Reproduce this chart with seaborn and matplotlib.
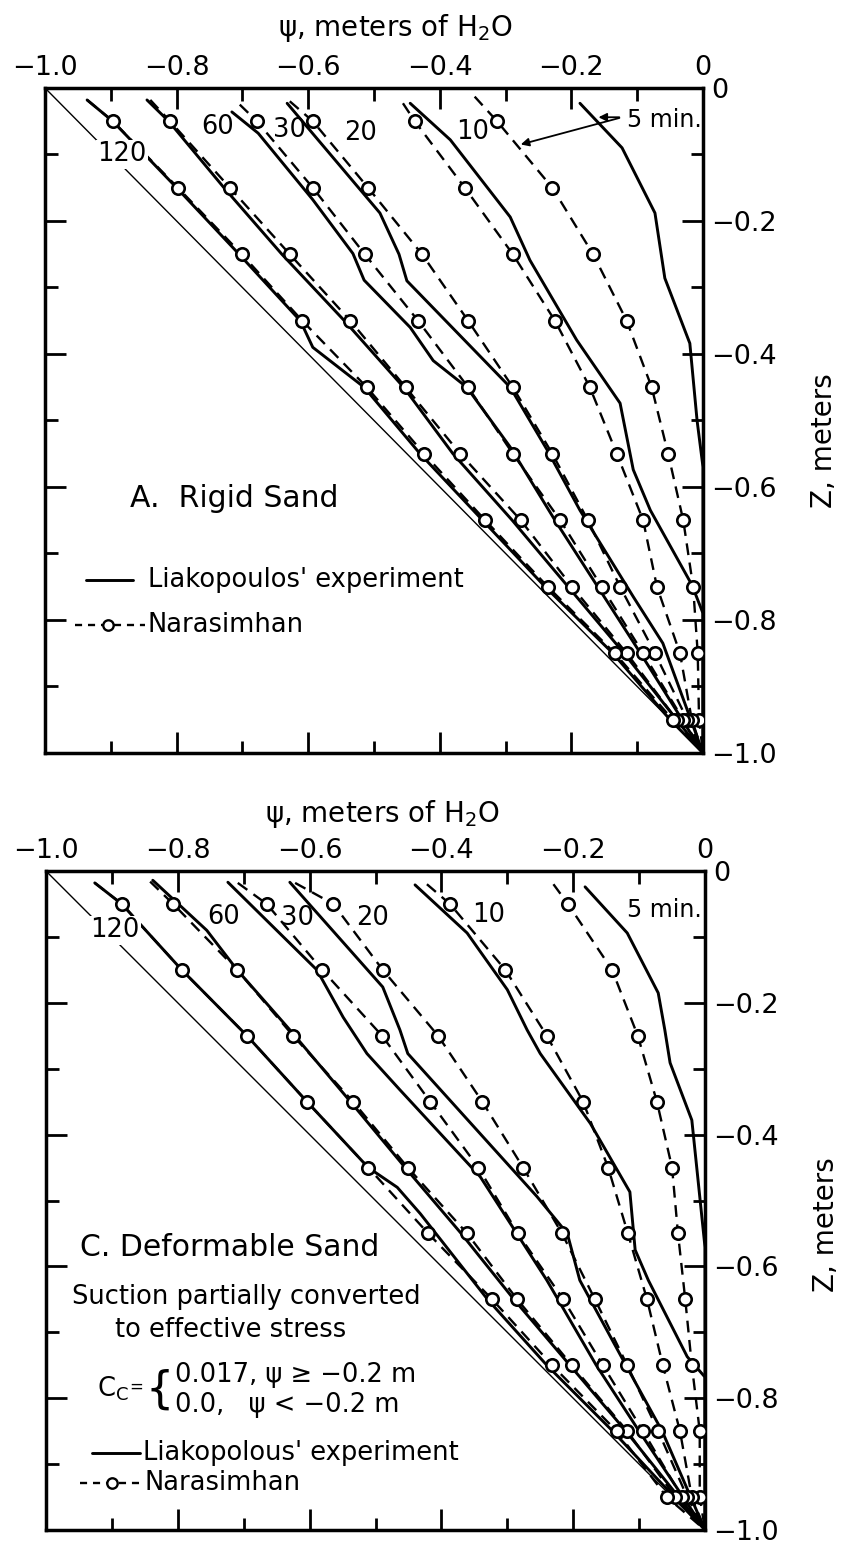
import matplotlib
matplotlib.use("Agg")
import matplotlib.pyplot as plt
import seaborn as sns
from matplotlib.ticker import MultipleLocator, FixedLocator, FixedFormatter

sns.set_theme(style="white")
plt.rcParams['font.family'] = ['DejaVu Sans']
plt.rcParams['mathtext.fontset'] = 'dejavusans'
plt.rcParams['text.color'] = 'black'
plt.rcParams['axes.labelcolor'] = 'black'
plt.rcParams['xtick.color'] = 'black'
plt.rcParams['ytick.color'] = 'black'

# ---------------- data ----------------
SERIES = ["5", "10", "20", "30", "60", "120"]
Z_CIRCLES = [-0.05, -0.15, -0.25, -0.35, -0.45, -0.55, -0.65, -0.75, -0.85, -0.95]
X_TICKLABELS = ["\u22121.0", "\u22120.8", "\u22120.6", "\u22120.4", "\u22120.2", "0"]
Y_TICKLABELS = ["\u22121.0", "\u22120.8", "\u22120.6", "\u22120.4", "\u22120.2", "0"]

# Panel A (rigid sand) - Narasimhan circles (psi at Z_CIRCLES)
A_N5 = [-0.313, -0.229, -0.167, -0.116, -0.078, -0.053, -0.030, -0.015, -0.008, -0.006]
A_N10 = [-0.438, -0.362, -0.289, -0.225, -0.172, -0.131, -0.091, -0.070, -0.035, -0.017]
A_N20 = [-0.593, -0.509, -0.427, -0.357, -0.289, -0.229, -0.175, -0.126, -0.073, -0.024]
A_N30 = [-0.678, -0.593, -0.514, -0.433, -0.357, -0.289, -0.217, -0.154, -0.091, -0.030]
A_N60 = [-0.810, -0.719, -0.628, -0.536, -0.452, -0.369, -0.277, -0.199, -0.116, -0.040]
A_N120 = [-0.897, -0.798, -0.701, -0.609, -0.511, -0.424, -0.331, -0.236, -0.134, -0.046]
# start of each dashed curve (z, psi)
A_NSTART_Z = [-0.013, -0.023, -0.020, -0.025, -0.018, -0.018]
A_NSTART_PSI = [-0.347, -0.456, -0.628, -0.704, -0.840, -0.936]

# Panel A - Liakopoulos experiment (solid)
A_S5_Z = [-0.023, -0.090, -0.188, -0.286, -0.384, -0.500, -0.570, -1.0]
A_S5_PSI = [-0.187, -0.123, -0.073, -0.058, -0.020, -0.009, 0.0, 0.0]
A_S10_Z = [-0.023, -0.078, -0.194, -0.259, -0.379, -0.474, -0.574, -0.635, -0.747, -0.790, -1.0]
A_S10_PSI = [-0.445, -0.384, -0.293, -0.263, -0.192, -0.126, -0.106, -0.080, -0.017, 0.0, 0.0]
A_S20_Z = [-0.023, -0.188, -0.250, -0.290, -0.450, -0.544, -0.635, -0.765, -0.835, -1.0]
A_S20_PSI = [-0.632, -0.491, -0.462, -0.450, -0.293, -0.237, -0.187, -0.106, -0.061, 0.0]
A_S30_Z = [-0.036, -0.068, -0.168, -0.249, -0.289, -0.360, -0.410, -0.450, -0.540, -0.650, -0.750, -0.850, -1.0]
A_S30_PSI = [-0.716, -0.676, -0.593, -0.532, -0.515, -0.445, -0.410, -0.359, -0.293, -0.225, -0.160, -0.095, 0.0]
A_S60_Z = [-0.018, -0.050, -0.150, -0.250, -0.350, -0.450, -0.550, -0.650, -0.750, -0.850, -1.0]
A_S60_PSI = [-0.845, -0.812, -0.728, -0.640, -0.545, -0.455, -0.380, -0.290, -0.205, -0.120, 0.0]
A_S120_Z = [-0.018, -0.050, -0.150, -0.250, -0.350, -0.390, -0.450, -0.550, -0.650, -0.750, -0.850, -0.950, -1.0]
A_S120_PSI = [-0.936, -0.897, -0.800, -0.705, -0.612, -0.593, -0.515, -0.430, -0.335, -0.240, -0.137, -0.050, 0.0]

# Panel C (deformable sand) - Narasimhan circles
C_N5 = [-0.208, -0.141, -0.102, -0.073, -0.050, -0.041, -0.030, -0.020, -0.008, -0.008]
C_N10 = [-0.387, -0.303, -0.240, -0.185, -0.147, -0.117, -0.088, -0.064, -0.038, -0.020]
C_N20 = [-0.564, -0.489, -0.405, -0.338, -0.276, -0.217, -0.167, -0.118, -0.071, -0.027]
C_N30 = [-0.665, -0.581, -0.490, -0.417, -0.344, -0.284, -0.215, -0.155, -0.094, -0.035]
C_N60 = [-0.807, -0.710, -0.625, -0.534, -0.451, -0.361, -0.285, -0.202, -0.118, -0.045]
C_N120 = [-0.885, -0.794, -0.695, -0.604, -0.511, -0.420, -0.323, -0.232, -0.134, -0.058]
C_NSTART_Z = [-0.020, -0.020, -0.018, -0.018, -0.016, -0.018]
C_NSTART_PSI = [-0.230, -0.422, -0.622, -0.709, -0.842, -0.926]

# Panel C - Liakopolous experiment (solid)
C_S5_Z = [-0.024, -0.094, -0.185, -0.241, -0.291, -0.378, -0.571, -1.0]
C_S5_PSI = [-0.182, -0.118, -0.071, -0.061, -0.053, -0.020, 0.0, 0.0]
C_S10_Z = [-0.021, -0.094, -0.180, -0.241, -0.277, -0.383, -0.487, -0.575, -0.621, -0.737, -0.768, -1.0]
C_S10_PSI = [-0.440, -0.361, -0.300, -0.270, -0.250, -0.174, -0.114, -0.106, -0.086, -0.027, 0.0, 0.0]
C_S20_Z = [-0.017, -0.176, -0.241, -0.277, -0.494, -0.550, -0.621, -0.750, -0.850, -1.0]
C_S20_PSI = [-0.630, -0.489, -0.463, -0.451, -0.255, -0.209, -0.190, -0.120, -0.065, 0.0]
C_S30_Z = [-0.017, -0.150, -0.222, -0.277, -0.332, -0.464, -0.621, -0.750, -0.850, -1.0]
C_S30_PSI = [-0.724, -0.589, -0.549, -0.513, -0.463, -0.341, -0.240, -0.165, -0.100, 0.0]
C_S60_Z = [-0.014, -0.090, -0.150, -0.241, -0.350, -0.450, -0.550, -0.650, -0.750, -0.850, -1.0]
C_S60_PSI = [-0.838, -0.756, -0.710, -0.630, -0.538, -0.455, -0.370, -0.290, -0.205, -0.120, 0.0]
C_S120_Z = [-0.018, -0.050, -0.150, -0.250, -0.350, -0.450, -0.480, -0.520, -0.650, -0.750, -0.850, -1.0]
C_S120_PSI = [-0.926, -0.885, -0.794, -0.695, -0.604, -0.511, -0.467, -0.432, -0.330, -0.240, -0.140, 0.0]

# hydrostatic reference line
HYDRO_PSI = [-1.0, 0.0]
HYDRO_Z = [0.0, -1.0]

# curve labels (psi, z)
A_LABELS = [("120", -0.883, -0.100), ("60", -0.737, -0.059), ("30", -0.629, -0.063),
            ("20", -0.521, -0.068), ("10", -0.350, -0.066)]
C_LABELS = [("120", -0.895, -0.090), ("60", -0.731, -0.070), ("30", -0.619, -0.071),
            ("20", -0.505, -0.071), ("10", -0.328, -0.067)]

# ---------------- figure ----------------
fig = plt.figure(figsize=(8.41, 15.49), dpi=100)
axA = fig.add_axes([0.0535, 0.5139, 0.7824, 0.4293])
axC = fig.add_axes([0.0547, 0.01227, 0.7836, 0.4254])

LW_SOLID = 2.1
LW_DASH = 1.7
DASH = (0, (5, 3.2))


def draw_panel(ax, solids, naras, starts_z, starts_psi, labels):
    sns.lineplot(x=HYDRO_PSI, y=HYDRO_Z, sort=False, estimator=None, color="black",
                 lw=1.0, ax=ax, zorder=1)
    for (pz, pp) in solids:
        sns.lineplot(x=pp, y=pz, sort=False, estimator=None, color="black",
                     lw=LW_SOLID, ax=ax, zorder=3)
    for i, n in enumerate(naras):
        xs = [starts_psi[i]] + list(n) + [0.0]
        ys = [starts_z[i]] + list(Z_CIRCLES) + [-1.0]
        sns.lineplot(x=xs, y=ys, sort=False, estimator=None, color="black",
                     lw=LW_DASH, linestyle=DASH, ax=ax, zorder=3)
        sns.scatterplot(x=n, y=Z_CIRCLES, marker="o", s=80, facecolor="white",
                        edgecolor="black", linewidth=1.9, ax=ax, zorder=5)
    for (t, px, pz) in labels:
        kw = {}
        if t == "120":
            kw["bbox"] = dict(facecolor="white", edgecolor="none", pad=1.0)
        ax.text(px, pz, t, fontsize=18.5, ha="center", va="center", zorder=6, **kw)

    ax.set_xlim(-1.0, 0.0)
    ax.set_ylim(-1.0, 0.0)
    ax.set_facecolor("white")
    for sp in ax.spines.values():
        sp.set_visible(True)
        sp.set_color("black")
        sp.set_linewidth(2.5)
    ax.xaxis.set_major_locator(FixedLocator([-1.0, -0.8, -0.6, -0.4, -0.2, 0.0]))
    ax.xaxis.set_major_formatter(FixedFormatter(X_TICKLABELS))
    ax.xaxis.set_minor_locator(MultipleLocator(0.1))
    ax.yaxis.set_major_locator(FixedLocator([-1.0, -0.8, -0.6, -0.4, -0.2, 0.0]))
    ax.yaxis.set_major_formatter(FixedFormatter(Y_TICKLABELS))
    ax.yaxis.set_minor_locator(MultipleLocator(0.1))
    ax.tick_params(axis="x", which="both", direction="in", top=True, bottom=True,
                   labeltop=True, labelbottom=False, labelsize=19.5, pad=5, width=2.0,
                   colors="black")
    ax.tick_params(axis="y", which="both", direction="in", left=True, right=True,
                   labelright=True, labelleft=False, labelsize=19.5, pad=6, width=2.0,
                   colors="black")
    ax.tick_params(which="major", length=15)
    ax.tick_params(which="minor", length=9)
    ax.xaxis.set_label_position("top")
    ax.yaxis.set_label_position("right")
    ax.set_xlabel("\u03c8, meters of H$_\\mathregular{2}$O", fontsize=20, color="black")
    ax.set_ylabel("Z, meters", fontsize=20, color="black")
    ax.grid(False)


A_SOLIDS = [(A_S5_Z, A_S5_PSI), (A_S10_Z, A_S10_PSI), (A_S20_Z, A_S20_PSI),
            (A_S30_Z, A_S30_PSI), (A_S60_Z, A_S60_PSI), (A_S120_Z, A_S120_PSI)]
A_NARAS = [A_N5, A_N10, A_N20, A_N30, A_N60, A_N120]
C_SOLIDS = [(C_S5_Z, C_S5_PSI), (C_S10_Z, C_S10_PSI), (C_S20_Z, C_S20_PSI),
            (C_S30_Z, C_S30_PSI), (C_S60_Z, C_S60_PSI), (C_S120_Z, C_S120_PSI)]
C_NARAS = [C_N5, C_N10, C_N20, C_N30, C_N60, C_N120]

draw_panel(axA, A_SOLIDS, A_NARAS, A_NSTART_Z, A_NSTART_PSI, A_LABELS)
draw_panel(axC, C_SOLIDS, C_NARAS, C_NSTART_Z, C_NSTART_PSI, C_LABELS)

axA.xaxis.set_label_coords(0.532, 1.078)
axC.xaxis.set_label_coords(0.51, 1.074)
axA.yaxis.set_label_coords(1.163, 0.47)
axC.yaxis.set_label_coords(1.163, 0.464)

# 5 min labels + arrows
axA.text(-0.116, -0.048, "5 min.", fontsize=17, ha="left", va="center")
axA.annotate("", xy=(-0.281, -0.086), xytext=(-0.123, -0.044),
             arrowprops=dict(arrowstyle="-|>", lw=1.3, color="black", mutation_scale=12))
axA.annotate("", xy=(-0.163, -0.044), xytext=(-0.123, -0.044),
             arrowprops=dict(arrowstyle="-|>", lw=1.3, color="black", mutation_scale=12))
axC.text(-0.118, -0.059, "5 min.", fontsize=17, ha="left", va="center")

# panel titles and legends
axA.text(0.129, 0.382, "A.  Rigid Sand", transform=axA.transAxes, fontsize=21.5,
         ha="left", va="center")
axA.plot([0.0623, 0.1337], [0.2602, 0.2602], transform=axA.transAxes, color="black", lw=2.1)
axA.text(0.1565, 0.2602, "Liakopoulos' experiment", transform=axA.transAxes,
         fontsize=18.5, ha="left", va="center")
axA.plot([0.0456, 0.1520], [0.1925, 0.1925], transform=axA.transAxes, color="black",
         lw=1.7, linestyle=(0, (3, 2.5)))
axA.plot([0.0958], [0.1925], transform=axA.transAxes, marker="o", ms=7.5,
         mfc="white", mec="black", mew=1.7, zorder=6)
axA.text(0.1565, 0.1925, "Narasimhan", transform=axA.transAxes,
         fontsize=18.5, ha="left", va="center")

axC.text(0.0516, 0.428, "C. Deformable Sand", transform=axC.transAxes, fontsize=21.5,
         ha="left", va="center")
axC.text(0.0395, 0.3536, "Suction partially converted", transform=axC.transAxes,
         fontsize=18.5, ha="left", va="center")
axC.text(0.1047, 0.3035, "to effective stress", transform=axC.transAxes,
         fontsize=18.5, ha="left", va="center")
axC.text(0.077, 0.214, "C$_\\mathregular{C}$", transform=axC.transAxes,
         fontsize=18.5, ha="left", va="center")
axC.text(0.127, 0.217, "=", transform=axC.transAxes,
         fontsize=12, ha="left", va="center")
axC.text(0.151, 0.212, "{", transform=axC.transAxes, fontsize=32, ha="left",
         va="center")
axC.text(0.196, 0.235, "0.017, \u03c8 \u2265 \u22120.2 m", transform=axC.transAxes,
         fontsize=18.5, ha="left", va="center")
axC.text(0.196, 0.190, "0.0,   \u03c8 < \u22120.2 m", transform=axC.transAxes,
         fontsize=18.5, ha="left", va="center")
axC.plot([0.0698, 0.1426], [0.1169, 0.1169], transform=axC.transAxes, color="black", lw=2.1)
axC.text(0.1472, 0.1169, "Liakopolous' experiment", transform=axC.transAxes,
         fontsize=18.5, ha="left", va="center")
axC.plot([0.0516, 0.1472], [0.0713, 0.0713], transform=axC.transAxes, color="black",
         lw=1.7, linestyle=(0, (3, 2.5)))
axC.plot([0.0994], [0.0713], transform=axC.transAxes, marker="o", ms=7.5,
         mfc="white", mec="black", mew=1.7, zorder=6)
axC.text(0.150, 0.0713, "Narasimhan", transform=axC.transAxes,
         fontsize=18.5, ha="left", va="center")

fig.savefig("out.png", dpi=100, facecolor="white")
